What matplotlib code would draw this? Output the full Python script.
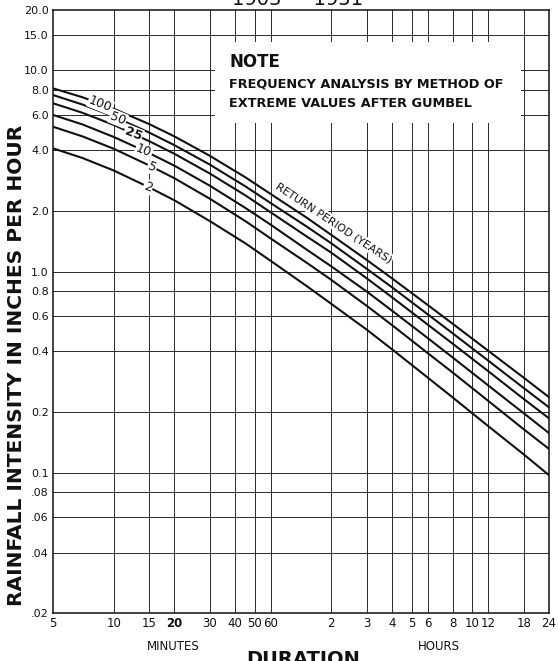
import numpy as np
import matplotlib
matplotlib.use("Agg")
import matplotlib.pyplot as plt
from matplotlib.patches import Rectangle

# storm duration, minutes
durations = [5, 7, 10, 15, 20, 30, 45, 60, 90, 120, 180, 240, 360, 480, 720, 1080, 1440]

# rainfall intensity, inches per hour, one list per return period
intensity_2 = [4.10, 3.67, 3.18, 2.62, 2.26, 1.78, 1.38, 1.13, 0.85, 0.69, 0.513, 0.410, 0.297, 0.236, 0.170, 0.123, 0.097]
intensity_5 = [5.25, 4.70, 4.08, 3.37, 2.91, 2.30, 1.78, 1.46, 1.11, 0.908, 0.674, 0.541, 0.393, 0.314, 0.227, 0.164, 0.131]
intensity_10 = [6.01, 5.39, 4.67, 3.88, 3.36, 2.67, 2.07, 1.71, 1.29, 1.06, 0.794, 0.638, 0.467, 0.373, 0.271, 0.197, 0.157]
intensity_25 = [6.87, 6.16, 5.36, 4.45, 3.85, 3.07, 2.39, 1.97, 1.50, 1.24, 0.924, 0.744, 0.545, 0.437, 0.319, 0.232, 0.186]
intensity_50 = [7.55, 6.77, 5.90, 4.91, 4.25, 3.40, 2.65, 2.19, 1.68, 1.38, 1.03, 0.834, 0.613, 0.492, 0.360, 0.263, 0.211]
intensity_100 = [8.15, 7.36, 6.45, 5.41, 4.70, 3.76, 2.94, 2.43, 1.86, 1.52, 1.14, 0.924, 0.682, 0.549, 0.403, 0.296, 0.237]

curves = [intensity_2, intensity_5, intensity_10, intensity_25, intensity_50, intensity_100]
return_periods = ["2", "5", "10", "25", "50", "100"]
label_minutes = [14.8, 15.5, 14.1, 12.5, 10.5, 8.6]

x_ticks = [5, 10, 15, 20, 30, 40, 50, 60, 120, 180, 240, 300, 360, 480, 600, 720, 1080, 1440]
x_tick_labels = ["5", "10", "15", "20", "30", "40", "50", "60",
                 "2", "3", "4", "5", "6", "8", "10", "12", "18", "24"]
y_ticks = [0.02, 0.04, 0.06, 0.08, 0.1, 0.2, 0.4, 0.6, 0.8, 1, 2, 4, 6, 8, 10, 15, 20]
y_tick_labels = [".02", ".04", ".06", ".08", "0.1", "0.2", "0.4", "0.6", "0.8",
                 "1.0", "2.0", "4.0", "6.0", "8.0", "10.0", "15.0", "20.0"]

INK = "#111111"

fig = plt.figure(figsize=(5.58, 6.61), dpi=100)
ax = fig.add_axes([0.095, 0.0726, 0.8889, 0.9123])
ax.set_xscale("log")
ax.set_yscale("log")
ax.set_xlim(5, 1440)
ax.set_ylim(0.02, 20)

# graph paper
for xv in x_ticks[1:-1]:
    ax.axvline(xv, color="#2a2a2a", lw=0.7, zorder=1)
for yv in y_ticks[1:-1]:
    ax.axhline(yv, color="#2a2a2a", lw=0.7, zorder=1)

for side in ax.spines.values():
    side.set_linewidth(1.1)
    side.set_color(INK)

ax.xaxis.set_minor_locator(matplotlib.ticker.NullLocator())
ax.yaxis.set_minor_locator(matplotlib.ticker.NullLocator())
ax.set_xticks(x_ticks)
ax.set_xticklabels(x_tick_labels, fontsize=8.5)
ax.set_yticks(y_ticks)
ax.set_yticklabels(y_tick_labels, fontsize=8)
ax.tick_params(length=0, pad=3, colors=INK)
for lbl in ax.get_xticklabels():
    if lbl.get_text() == "20":
        lbl.set_fontweight("bold")

# blank panel behind the note
ax.add_patch(Rectangle((0.327, 0.813), 0.617, 0.134, transform=ax.transAxes,
                       facecolor="white", edgecolor="none", zorder=2))
ax.text(0.355, 0.905, "NOTE", transform=ax.transAxes, fontsize=12,
        fontweight="bold", color=INK, zorder=3)
ax.text(0.355, 0.872, "FREQUENCY ANALYSIS BY METHOD OF", transform=ax.transAxes,
        fontsize=9.3, fontweight="bold", color=INK, zorder=3)
ax.text(0.355, 0.839, "EXTREME VALUES AFTER GUMBEL", transform=ax.transAxes,
        fontsize=9.3, fontweight="bold", color=INK, zorder=3)

# intensity-duration curves with return period tags
log_t = np.log(durations)
for vals, rp, tm in zip(curves, return_periods, label_minutes):
    ax.plot(durations, vals, color=INK, lw=1.5, zorder=3)
    yv = np.exp(np.interp(np.log(tm), log_t, np.log(vals)))
    ax.text(tm, yv, rp, fontsize=9, rotation=-22, ha="center", va="center",
            color=INK, zorder=4, fontweight="bold" if rp == "25" else "normal",
            bbox=dict(facecolor="white", edgecolor="none", pad=0.6))

ax.text(123, 1.75, "RETURN PERIOD (YEARS)", fontsize=7.8, rotation=-33.5,
        ha="center", va="center", color=INK, zorder=4,
        bbox=dict(facecolor="white", edgecolor="none", pad=1.0))

ax.set_ylabel("RAINFALL INTENSITY IN INCHES PER HOUR", fontsize=14.5,
              fontweight="bold", color=INK)
ax.yaxis.set_label_coords(-0.054, 0.41)

fig.text(173 / 558, 1 - 647 / 661, "MINUTES", fontsize=8.5, ha="center",
         va="center", color=INK)
fig.text(439 / 558, 1 - 647 / 661, "HOURS", fontsize=8.5, ha="center",
         va="center", color=INK)
fig.text(303 / 558, 1 - 650 / 661, "DURATION", fontsize=14, fontweight="bold",
         ha="center", va="top", color=INK)
fig.text(298 / 558, 1 - 5 / 661, "1903 \u2014 1951", fontsize=14,
         ha="center", va="baseline", color=INK)

fig.savefig("out.png", dpi=100, facecolor="white")
